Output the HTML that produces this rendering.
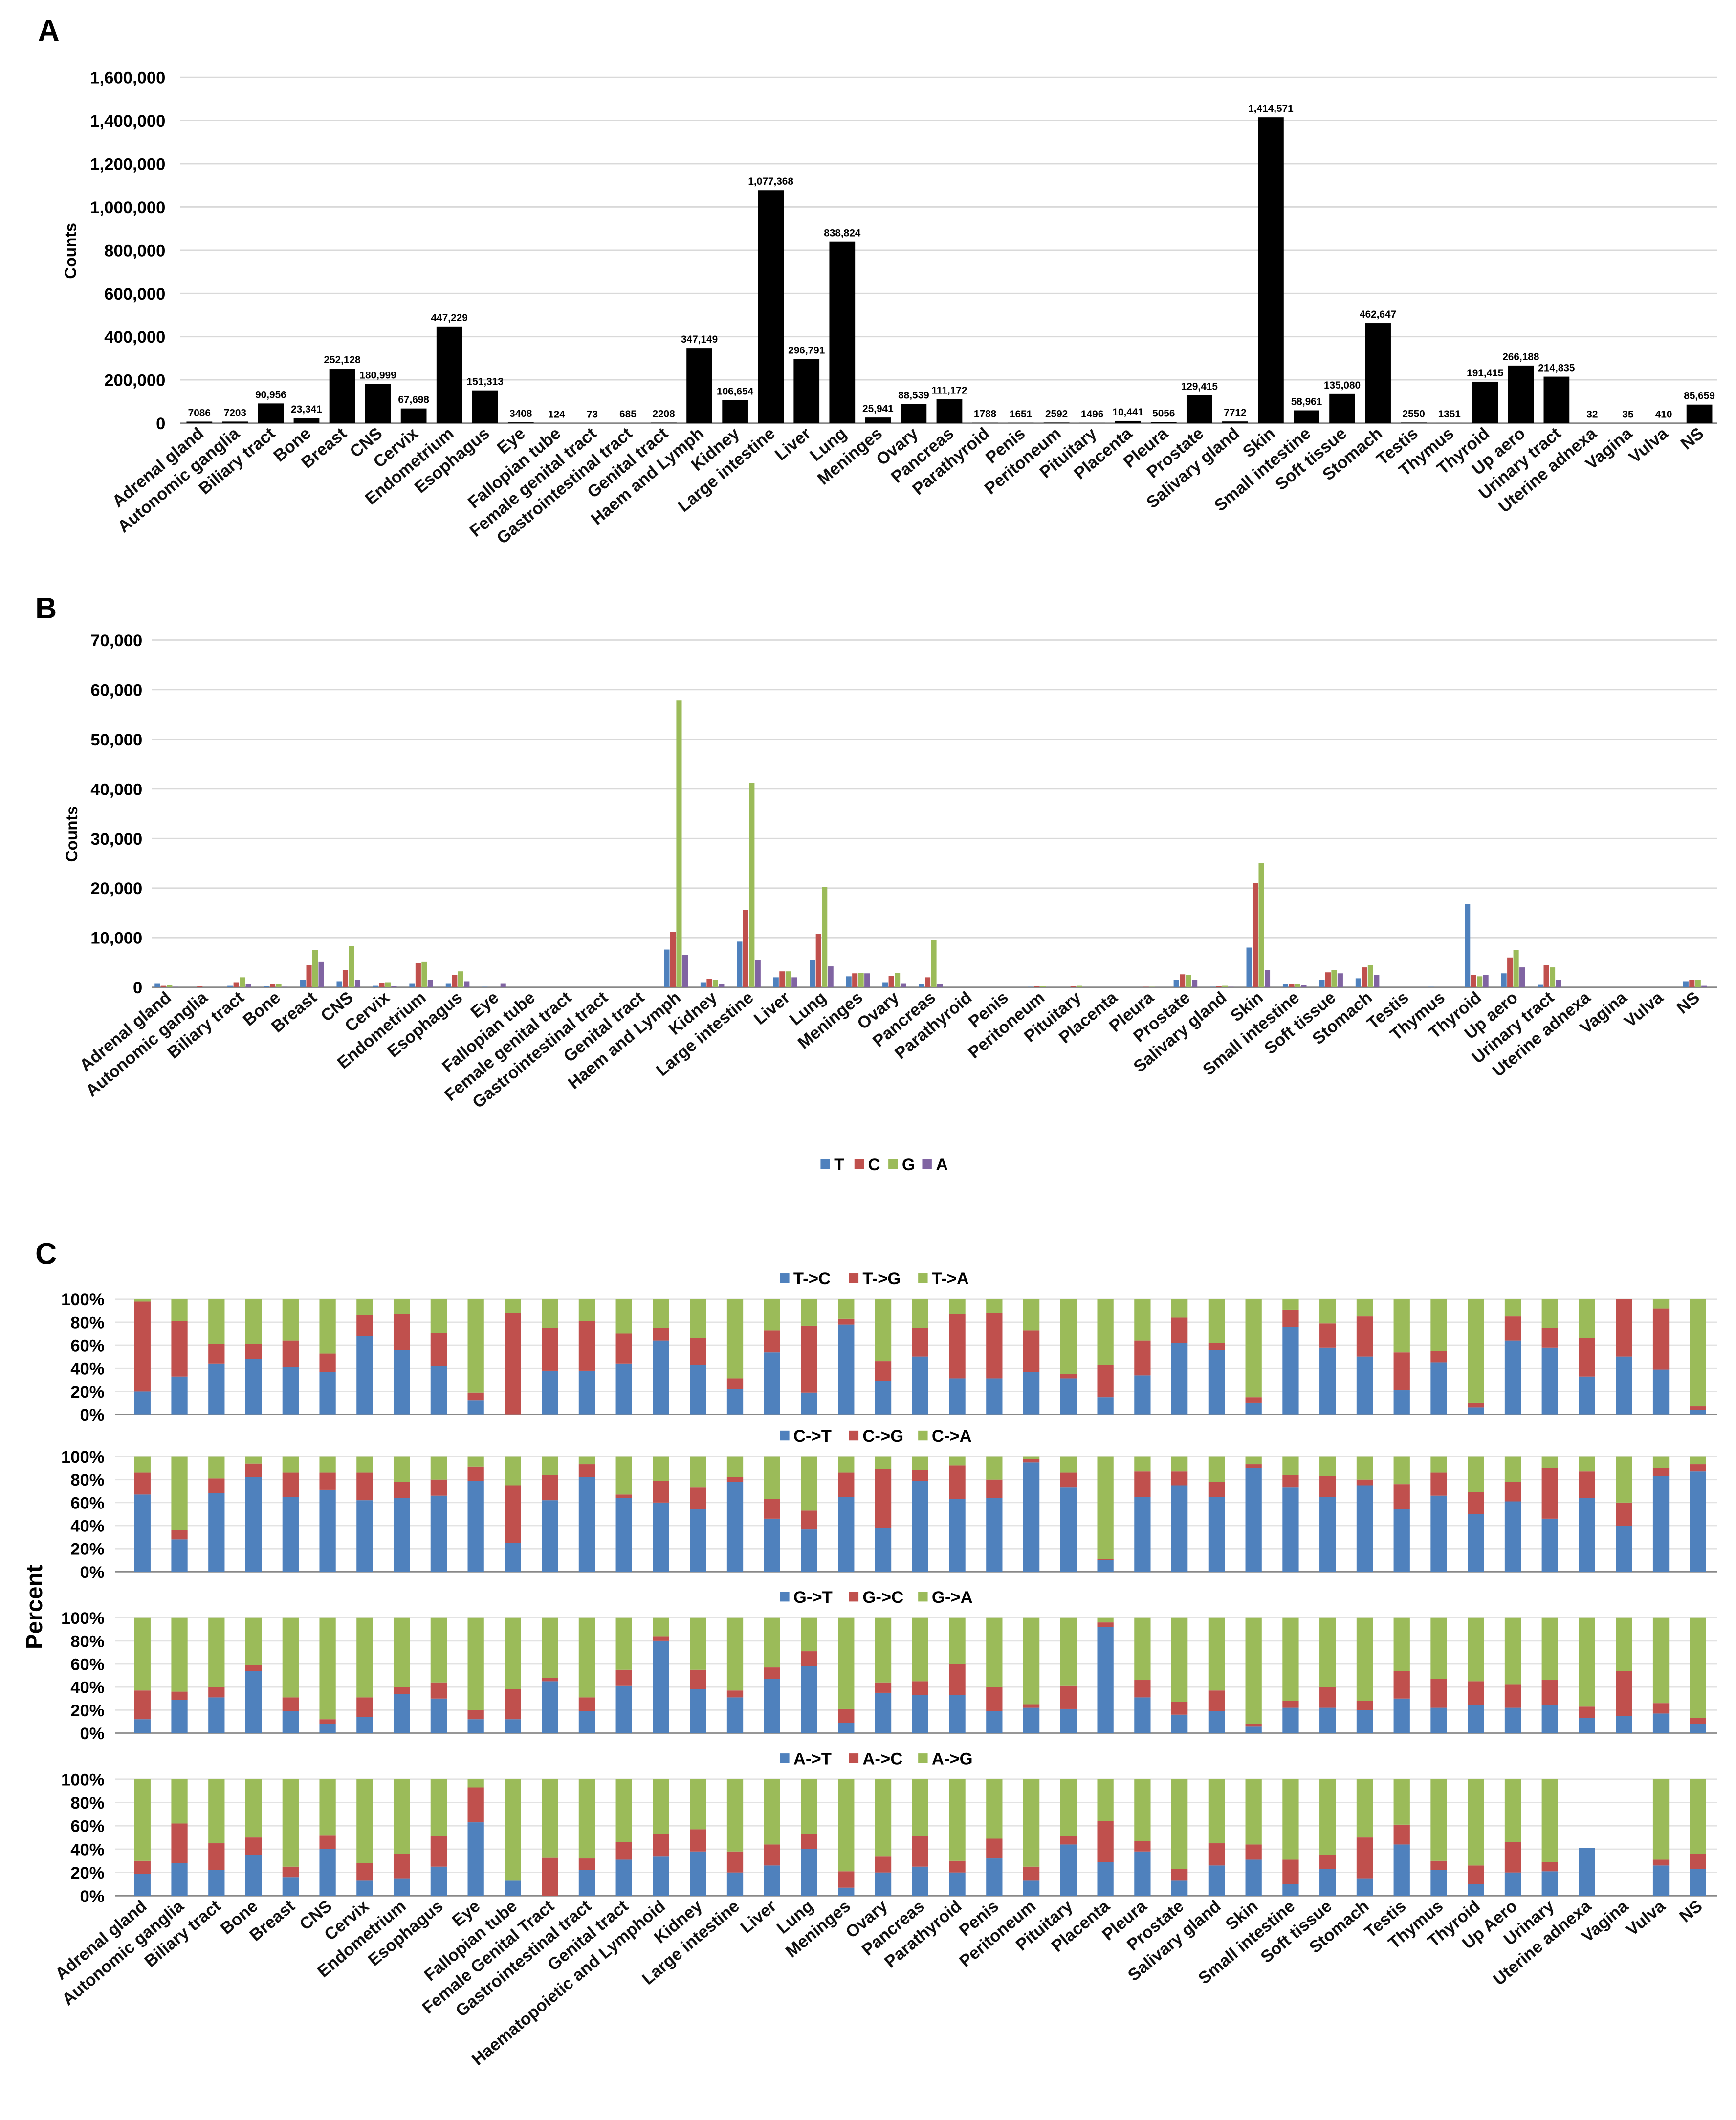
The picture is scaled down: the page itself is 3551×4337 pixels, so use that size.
<!DOCTYPE html>
<html><head><meta charset="utf-8"><style>
html,body{margin:0;padding:0;background:#fff;}
svg{display:block;font-family:"Liberation Sans",sans-serif;}
</style></head><body>
<svg id="fig" xmlns="http://www.w3.org/2000/svg" width="3551" height="4337" viewBox="0 0 1280 1563.3">
<rect width="1280" height="1563.3" fill="#fff"/>
<text x="28" y="30" font-size="22" font-weight="bold">A</text>
<text x="26" y="456" font-size="22" font-weight="bold">B</text>
<text x="26" y="932" font-size="22" font-weight="bold">C</text>
<text transform="translate(56,185) rotate(-90)" text-anchor="middle" font-size="12" font-weight="bold">Counts</text>
<text transform="translate(57,615) rotate(-90)" text-anchor="middle" font-size="12" font-weight="bold">Counts</text>
<text transform="translate(31,1185) rotate(-90)" text-anchor="middle" font-size="17" font-weight="bold">Percent</text>
<g id="gA"></g>
<g id="gB"></g>
<g id="gC"></g>
</svg>
<script>
const catsA = ["Adrenal gland","Autonomic ganglia","Biliary tract","Bone","Breast","CNS","Cervix","Endometrium","Esophagus","Eye","Fallopian tube","Female genital tract","Gastrointestinal tract","Genital tract","Haem and Lymph","Kidney","Large intestine","Liver","Lung","Meninges","Ovary","Pancreas","Parathyroid","Penis","Peritoneum","Pituitary","Placenta","Pleura","Prostate","Salivary gland","Skin","Small intestine","Soft tissue","Stomach","Testis","Thymus","Thyroid","Up aero","Urinary tract","Uterine adnexa","Vagina","Vulva","NS"];
const countsA = [7086,7203,90956,23341,252128,180999,67698,447229,151313,3408,124,73,685,2208,347149,106654,1077368,296791,838824,25941,88539,111172,1788,1651,2592,1496,10441,5056,129415,7712,1414571,58961,135080,462647,2550,1351,191415,266188,214835,32,35,410,85659];
const ticksA = [0,200000,400000,600000,800000,1000000,1200000,1400000,1600000];
const ticksB = [0,10000,20000,30000,40000,50000,60000,70000];
const seriesB = ["T","C","G","A"];
const bT = [800,0,300,200,1500,1200,300,800,800,100,0,0,0,0,7600,1000,9200,2000,5500,2200,1000,700,0,0,100,0,0,0,1500,100,8000,600,1500,1800,0,100,16800,2800,500,0,0,0,1200];
const bC = [300,200,1000,600,4500,3500,900,4800,2500,0,0,0,0,0,11200,1700,15600,3200,10800,2800,2300,2000,0,0,200,200,0,100,2600,200,21000,700,3000,4000,0,0,2500,6000,4500,0,0,0,1500];
const bG = [400,0,2000,700,7500,8300,1000,5200,3200,0,0,0,0,0,57800,1500,41200,3200,20200,2900,2900,9500,0,0,200,300,0,100,2500,300,25000,700,3500,4500,0,0,2200,7500,4000,0,0,0,1500];
const bA = [100,0,600,100,5200,1500,200,1500,1200,800,0,0,0,0,6500,700,5500,2000,4200,2800,800,600,0,0,0,0,0,0,1500,100,3500,400,2800,2500,0,0,2500,4000,1500,0,0,0,300];
const catsC = ["Adrenal gland","Autonomic ganglia","Biliary tract","Bone","Breast","CNS","Cervix","Endometrium","Esophagus","Eye","Fallopian tube","Female Genital Tract","Gastrointestinal tract","Genital tract","Haematopoietic and Lymphoid","Kidney","Large intestine","Liver","Lung","Meninges","Ovary","Pancreas","Parathyroid","Penis","Peritoneum","Pituitary","Placenta","Pleura","Prostate","Salivary gland","Skin","Small intestine","Soft tissue","Stomach","Testis","Thymus","Thyroid","Up Aero","Urinary","Uterine adnexa","Vagina","Vulva","NS"];
const ticksC = [0,20,40,60,80,100];
const legT = ["T->C","T->G","T->A"];
const tC = [20,33,44,48,41,37,68,56,42,12,0,38,38,44,64,43,22,54,19,78,29,50,31,31,37,31,15,34,62,56,10,76,58,50,21,45,6,64,58,33,50,39,4];
const tG = [78,48,17,13,23,16,18,31,29,7,88,37,43,26,11,23,9,19,58,5,17,25,56,57,36,4,28,30,22,6,5,15,21,35,33,10,4,21,17,33,50,53,3];
const tA = [2,19,39,39,36,47,14,13,29,81,12,25,19,30,25,34,69,27,23,17,54,25,13,12,27,65,57,36,16,38,85,9,21,15,46,45,90,15,25,34,0,8,93];
const legCx = ["C->T","C->G","C->A"];
const cT = [67,28,68,82,65,71,62,64,66,79,25,62,82,64,60,54,78,46,37,65,38,79,63,64,95,73,10,65,75,65,90,73,65,75,54,66,50,61,46,64,40,83,87];
const cG = [19,8,13,12,21,15,24,14,14,12,50,22,11,3,19,19,4,17,16,21,51,9,29,16,3,13,1,22,12,13,3,11,18,5,22,20,19,17,44,23,20,7,6];
const cA = [14,64,19,6,14,14,14,22,20,9,25,16,7,33,21,27,18,37,47,14,11,12,8,20,2,14,89,13,13,22,7,16,17,20,24,14,31,22,10,13,40,10,7];
const legG = ["G->T","G->C","G->A"];
const gT = [12,29,31,54,19,8,14,34,30,12,12,45,19,41,80,38,31,47,58,9,35,33,33,19,22,21,92,31,16,19,6,22,22,20,30,22,24,22,24,13,15,17,8];
const gC = [25,7,9,5,12,4,17,6,14,8,26,3,12,14,4,17,6,10,13,12,9,12,27,21,3,20,4,15,11,18,2,6,18,8,24,25,21,20,22,10,39,9,5];
const gA = [63,64,60,41,69,88,69,60,56,80,62,52,69,45,16,45,63,43,29,79,56,55,40,60,75,59,4,54,73,63,92,72,60,72,46,53,55,58,54,77,46,74,87];
const legA = ["A->T","A->C","A->G"];
const aT = [19,28,22,35,16,40,13,15,25,63,13,0,22,31,34,38,20,26,40,7,20,25,20,32,13,44,29,38,13,26,31,10,23,15,44,22,10,20,21,41,0,26,23];
const aC = [11,34,23,15,9,12,15,21,26,30,0,33,10,15,19,19,18,18,13,14,14,26,10,17,12,7,35,9,10,19,13,21,12,35,17,8,16,26,8,0,0,5,13];
const aG = [70,38,55,50,75,48,72,64,49,7,87,67,68,54,47,43,62,56,47,79,66,49,70,51,75,49,36,53,77,55,56,69,65,50,39,70,74,54,71,0,0,69,64];

const NS='http://www.w3.org/2000/svg';
const COLS=['#4F81BD','#C0504D','#9BBB59','#8064A2'];
function el(parent,tag,attrs,txt){const e=document.createElementNS(NS,tag);for(const k in attrs)e.setAttribute(k,attrs[k]);if(txt!==undefined)e.textContent=txt;parent.appendChild(e);return e;}
function fmt(v){return v.toLocaleString('en-US');}
function xLabels(g,cats,xf,y0,name){
  cats.forEach((c,i)=>{const x=xf(i)+4;
    const t=el(g,'text',{transform:`translate(${x},${y0+9}) rotate(-40)`,'text-anchor':'end','font-size':12.5,'font-weight':'bold',fill:'#111'},c);
    
    
  });
}
// Panel A
(function(){
  const g=document.getElementById('gA');
  const x0=133,x1=1266,y0=312,yTop=57,max=1600000;
  const ys=v=>y0-(v/max)*(y0-yTop);
  const xs=i=>147+i*(1253-147)/42;
  ticksA.forEach(t=>{const y=ys(t);
    const l=el(g,'line',{x1:x0,x2:x1,y1:y,y2:y,stroke:t===0?'#888':'#d9d9d9','stroke-width':1});
    
    const tx=el(g,'text',{x:122,y:y+4.5,'text-anchor':'end','font-size':12.5,'font-weight':'bold'},fmt(t));
    
  });
  countsA.forEach((v,i)=>{const x=xs(i),y=ys(v);
    const r=el(g,'rect',{x:x-9.5,y:y,width:19,height:y0-y,fill:'#000'});
    
    const lab=el(g,'text',{x:x,y:y-4,'text-anchor':'middle','font-size':7.5,'font-weight':'bold'},v<10000?String(v):fmt(v));
    
  });
  xLabels(g,catsA,xs,y0,'panel-a');
})();
// Panel B
(function(){
  const g=document.getElementById('gB');
  const x0=112,x1=1266,y0=728,yTop=472,max=70000;
  const ys=v=>y0-(v/max)*(y0-yTop);
  const xs=i=>123+i*(1250-123)/42;
  ticksB.forEach(t=>{const y=ys(t);
    const l=el(g,'line',{x1:x0,x2:x1,y1:y,y2:y,stroke:t===0?'#888':'#d9d9d9','stroke-width':1});
    
    const tx=el(g,'text',{x:105,y:y+4.5,'text-anchor':'end','font-size':12.5,'font-weight':'bold'},fmt(t));
    
  });
  const data=[bT,bC,bG,bA];
  catsA.forEach((c,i)=>{data.forEach((arr,s)=>{const v=arr[i];if(v<=0)return;const y=ys(v);
    const r=el(g,'rect',{x:xs(i)-9+s*4.5,y:y,width:4,height:y0-y,fill:COLS[s]});
    
  });});
  xLabels(g,catsA,xs,y0,'panel-b');
  let lx=605;
  seriesB.forEach((s,k)=>{
    const r=el(g,'rect',{x:lx,y:855,width:7,height:7,fill:COLS[k]});
    
    const t=el(g,'text',{x:lx+10,y:863,'font-size':12.5,'font-weight':'bold'},s);
    
    lx+=25;
  });
})();
// Panel C
(function(){
  const g=document.getElementById('gC');
  const xs=i=>105+i*(1252-105)/42;
  const panels=[
    {top:958,bot:1043,leg:legT,d:[tC,tG,tA],n:'t'},
    {top:1074,bot:1159,leg:legCx,d:[cT,cG,cA],n:'c'},
    {top:1193,bot:1278,leg:legG,d:[gT,gC,gA],n:'g'},
    {top:1312,bot:1398,leg:legA,d:[aT,aC,aG],n:'a'}];
  panels.forEach(p=>{
    const ys=v=>p.bot-(v/100)*(p.bot-p.top);
    ticksC.forEach(t=>{const y=ys(t);
      const l=el(g,'line',{x1:85,x2:1266,y1:y,y2:y,stroke:t===0?'#888':'#e3e3e3','stroke-width':1});
      
      const tx=el(g,'text',{x:77,y:y+4.5,'text-anchor':'end','font-size':12.5,'font-weight':'bold'},t+'%');
      
    });
    catsC.forEach((c,i)=>{let cum=0;
      p.d.forEach((arr,s)=>{const v=arr[i];if(v<=0)return;const yA=ys(cum),yB=ys(cum+v);
        const r=el(g,'rect',{x:xs(i)-6,y:yB,width:12,height:yA-yB,fill:COLS[s]});
        
        cum+=v;});
    });
    let lx=575;
    p.leg.forEach((s,k)=>{
      const r=el(g,'rect',{x:lx,y:p.top-19,width:7,height:7,fill:COLS[k]});
      
      const t=el(g,'text',{x:lx+10,y:p.top-11,'font-size':12.5,'font-weight':'bold'},s);
      
      lx+=51;
    });
  });
  xLabels(g,catsC,xs,1398,'panel-c');
})();
</script>
</body></html>
